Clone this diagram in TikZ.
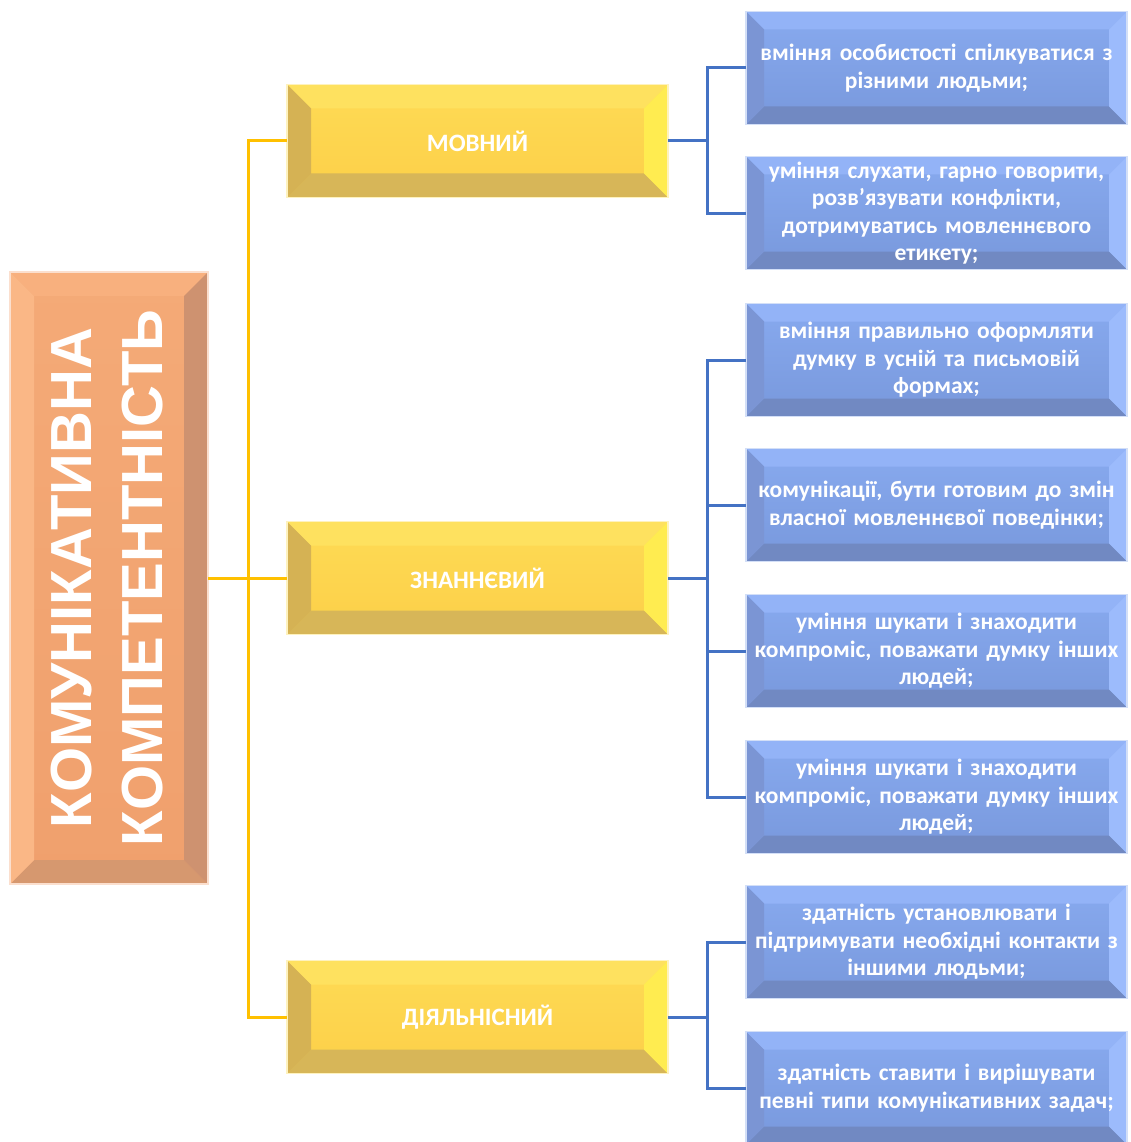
\documentclass[tikz,border=0pt]{standalone}
\usepackage{fontspec}
\setmainfont{Carlito}
\newfontfamily\headfont{Liberation Sans}
\definecolor{orl}{HTML}{FFC000}
\definecolor{bll}{HTML}{4472C4}
\definecolor{F3A875c}{HTML}{F4AA77}
\definecolor{F0A06Ec}{HTML}{F0A06D}
\definecolor{F3A572c}{HTML}{F3A572}
\definecolor{F7AF7Ec}{HTML}{F8B07E}
\definecolor{D4976Ec}{HTML}{D6986F}
\definecolor{F9B785c}{HTML}{FAB786}
\definecolor{CE9270c}{HTML}{CE9270}
\definecolor{FEDB55c}{HTML}{FEDB55}
\definecolor{FCCF48c}{HTML}{FCCF48}
\definecolor{FDD34Cc}{HTML}{FDD34C}
\definecolor{FDE36Ec}{HTML}{FDE36E}
\definecolor{FEE15Fc}{HTML}{FEE15F}
\definecolor{D7B658c}{HTML}{D7B658}
\definecolor{D5B254c}{HTML}{D5B254}
\definecolor{FFEC50c}{HTML}{FFEC50}
\definecolor{88AAEFc}{HTML}{88AAEF}
\definecolor{7898DCc}{HTML}{7898DC}
\definecolor{9DB8EEc}{HTML}{9DB8EE}
\definecolor{7FA1E6c}{HTML}{7FA1E6}
\definecolor{93B3F7c}{HTML}{93B3F7}
\definecolor{7189C2c}{HTML}{7189C2}
\definecolor{7B95D4c}{HTML}{7B95D4}
\definecolor{9CBBFCc}{HTML}{9CBBFC}
\tikzset{
  x=1pt, y=-1pt,
  bev/.style n args={6}{path picture={
    \path (path picture bounding box.north west) coordinate (bNW)
          (path picture bounding box.north east) coordinate (bNE)
          (path picture bounding box.south west) coordinate (bSW)
          (path picture bounding box.south east) coordinate (bSE);
    \fill[#2] (bNW) -- (bNE) -- ([shift={(-#6pt,-#6pt)}]bNE) -- ([shift={(#6pt,-#6pt)}]bNW) -- cycle;
    \fill[#3] (bSW) -- (bSE) -- ([shift={(-#6pt,#6pt)}]bSE) -- ([shift={(#6pt,#6pt)}]bSW) -- cycle;
    \fill[#4] (bNW) -- (bSW) -- ([shift={(#6pt,#6pt)}]bSW) -- ([shift={(#6pt,-#6pt)}]bNW) -- cycle;
    \fill[#5] (bNE) -- (bSE) -- ([shift={(-#6pt,#6pt)}]bSE) -- ([shift={(-#6pt,-#6pt)}]bNE) -- cycle;
  }},
  orbox/.style={rectangle, inner sep=0, outer sep=0, minimum width=198, minimum height=612,
    top color=F3A875c, bottom color=F0A06Ec, draw=F3A572c!35!white, line width=1.5pt,
    bev={F3A572c}{F7AF7Ec}{D4976Ec}{F9B785c}{CE9270c}{24}},
  ylbox/.style={rectangle, inner sep=0, outer sep=0, minimum width=381, minimum height=113,
    top color=FEDB55c, bottom color=FCCF48c, draw=FDE36Ec!45!white, line width=1.5pt,
    bev={FDD34Cc}{FEE15Fc}{D7B658c}{D5B254c}{FFEC50c}{24},
    text=white, font=\bfseries\fontsize{25}{28}\selectfont},
  blbox/.style={rectangle, inner ysep=0, inner xsep=0pt, outer sep=0, text width=381pt, minimum height=113,
    align=center, top color=88AAEFc, bottom color=7898DCc, draw=9DB8EEc!45!white, line width=1.5pt,
    bev={7FA1E6c}{93B3F7c}{7189C2c}{7B95D4c}{9CBBFCc}{18},
    text=white, font=\bfseries\fontsize{23.5}{27.5}\selectfont},
  orline/.style={draw=orl, line width=3pt},
  blline/.style={draw=bll, line width=3pt},
}
\begin{document}
\begin{tikzpicture}
\useasboundingbox[fill=white] (0,0) rectangle (1131,1142);
% left box
\node[orbox] (kbox) at (109,578) {};
\node[rotate=90, text=white, align=center, font=\headfont\bfseries\fontsize{58}{71}\selectfont, inner sep=0] (ktext) at (107,578) {КОМУНІКАТИВНА\\КОМПЕТЕНТНІСТЬ};
% yellow boxes
\node[ylbox] (y1) at (477.5,141) {МОВНИЙ};
\node[ylbox] (y2) at (477.5,578) {ЗНАННЄВИЙ};
\node[ylbox] (y3) at (477.5,1017) {ДІЯЛЬНІСНИЙ};
% blue boxes
\node[blbox] (b1) at (936.5,68) {вміння особистості спілкуватися з\\ різними людьми;};
\node[blbox] (b2) at (936.5,213) {уміння слухати, гарно говорити,\\ розв’язувати конфлікти,\\ дотримуватись мовленнєвого\\ етикету;};
\node[blbox] (b3) at (936.5,360) {вміння правильно оформляти\\ думку в усній та письмовій\\ формах;};
\node[blbox] (b4) at (936.5,505) {комунікації, бути готовим до змін\\ власної мовленнєвої поведінки;};
\node[blbox] (b5) at (936.5,651) {уміння шукати і знаходити\\ компроміс, поважати думку інших\\ людей;};
\node[blbox] (b6) at (936.5,797) {уміння шукати і знаходити\\ компроміс, поважати думку інших\\ людей;};
\node[blbox] (b7) at (936.5,942) {здатність установлювати і\\ підтримувати необхідні контакти з\\ іншими людьми;};
\node[blbox] (b8) at (936.5,1088) {здатність ставити і вирішувати\\ певні типи комунікативних задач;};
% orange connectors
\coordinate (oj) at (248,578);
\draw[orline] (kbox.east) -- (y2.west);
\draw[orline] (y1.west) -| (oj) |- (y3.west);
% blue connectors
\coordinate (j1) at (707,141);
\coordinate (j2) at (707,578);
\coordinate (j3) at (707,1017);
\draw[blline] (y1.east) -- (j1);
\draw[blline] (b1.west) -| (j1) |- (b2.west);
\draw[blline] (y2.east) -- (j2);
\draw[blline] (b3.west) -| (j2) |- (b6.west);
\draw[blline] (j2) |- (b4.west);
\draw[blline] (j2) |- (b5.west);
\draw[blline] (y3.east) -- (j3);
\draw[blline] (b7.west) -| (j3) |- (b8.west);
\end{tikzpicture}
\end{document}
